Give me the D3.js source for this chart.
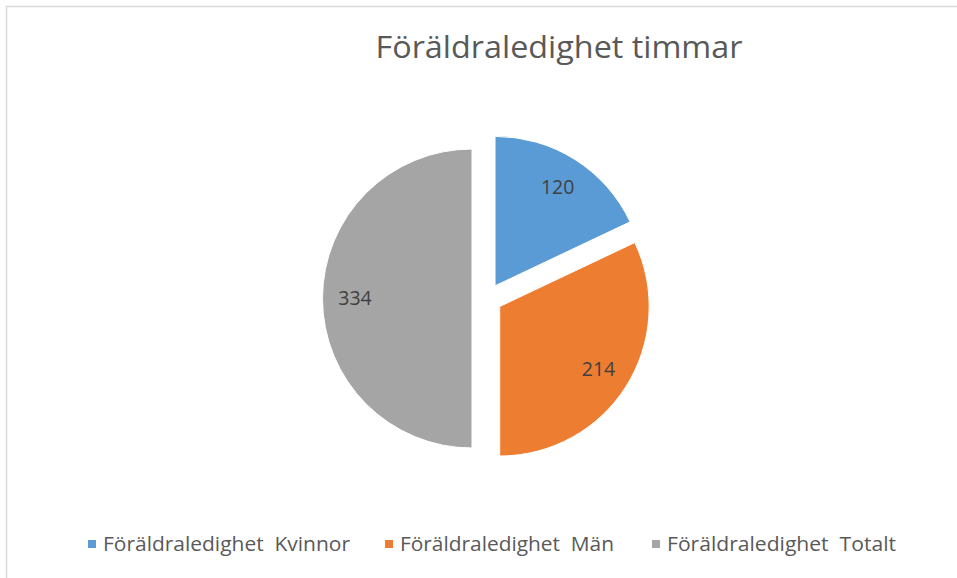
<!DOCTYPE html>
<html>
<head>
<meta charset="utf-8">
<script src="https://cdn.jsdelivr.net/npm/d3@7"></script>
<style>
  html, body { margin: 0; padding: 0; background: #fff; }
  svg { display: block; }
</style>
</head>
<body>
<div id="chart"></div>
<script>
// Chart data
const categories = ['Föräldraledighet  Kvinnor', 'Föräldraledighet  Män', 'Föräldraledighet  Totalt'];
const values = [120, 214, 334];
const colors = ['#5B9BD5', '#ED7D31', '#A5A5A5'];
const title = 'Föräldraledighet timmar';

const width = 957;
const height = 578;

const svg = d3.select('#chart')
    .append('svg')
    .attr('width', width)
    .attr('height', height);

// Chart area frame (extends past the right / bottom edges)
svg.append('rect')
    .attr('x', 6.5)
    .attr('y', 6.5)
    .attr('width', 1000)
    .attr('height', 1000)
    .attr('fill', '#fff')
    .attr('stroke', '#d9d9d9')
    .attr('stroke-width', 1.5);

// Title
svg.append('text')
    .attr('x', 559)
    .attr('y', 58)
    .attr('text-anchor', 'middle')
    .attr('font-family', 'Open Sans, sans-serif')
    .attr('font-size', 31)
    .attr('fill', '#595959')
    .attr('textLength', 367)
    .attr('lengthAdjust', 'spacingAndGlyphs')
    .text(title);

// Pie
const cx = 487, cy = 298.5, radius = 149.5, explode = 15;

const pie = d3.pie().sort(null).startAngle(0).endAngle(2 * Math.PI);
const arcs = pie(values);

const arc = d3.arc().innerRadius(0).outerRadius(radius);
const labelArc = d3.arc().innerRadius(117).outerRadius(117);

const g = svg.append('g').attr('transform', `translate(${cx},${cy})`);

const slice = g.selectAll('g.slice')
    .data(arcs)
    .join('g')
    .attr('class', 'slice')
    .attr('transform', d => {
        const a = (d.startAngle + d.endAngle) / 2;
        return `translate(${explode * Math.sin(a)},${-explode * Math.cos(a)})`;
    });

slice.append('path')
    .attr('d', arc)
    .attr('fill', (d, i) => colors[i])
    .attr('stroke', '#fff')
    .attr('stroke-width', 1);

slice.append('text')
    .attr('transform', d => `translate(${labelArc.centroid(d)})`)
    .attr('text-anchor', 'middle')
    .attr('dy', '0.35em')
    .attr('font-family', 'Open Sans, sans-serif')
    .attr('font-size', 19.5)
    .attr('fill', '#404040')
    .text(d => d.data);

// Legend
const legendX = [88, 385, 652];
const legendW = [247, 214, 229];
const legend = svg.append('g')
    .selectAll('g')
    .data(categories)
    .join('g')
    .attr('transform', (d, i) => `translate(${legendX[i]},544)`);

legend.append('rect')
    .attr('x', 0)
    .attr('y', -4)
    .attr('width', 8)
    .attr('height', 8)
    .attr('fill', (d, i) => colors[i]);

legend.append('text')
    .attr('x', 15)
    .attr('dy', '0.35em')
    .attr('font-family', 'Open Sans, sans-serif')
    .attr('font-size', 19.5)
    .attr('fill', '#595959')
    .attr('textLength', (d, i) => legendW[i])
    .attr('lengthAdjust', 'spacingAndGlyphs')
    .style('white-space', 'pre')
    .text(d => d);
</script>
</body>
</html>
